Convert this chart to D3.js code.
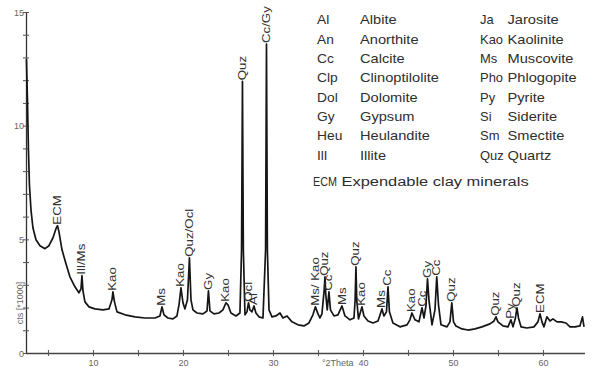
<!DOCTYPE html>
<html>
<head>
<meta charset="utf-8">
<script src="https://cdn.jsdelivr.net/npm/d3@7"></script>
<style>
  html, body { margin: 0; padding: 0; background: #fff; }
  svg { display: block; font-family: "Liberation Sans", Arial, sans-serif; }
</style>
</head>
<body>
<svg id="chart" width="594" height="367"></svg>
<script>
// Diffraction pattern: 2-theta angle (degrees) and intensity (counts x 1000)
const theta = [
  2.61, 2.72, 2.83, 2.94, 3.11, 3.33, 3.67, 4.11, 4.67, 5.11, 5.56, 5.89, 6.06, 6.22, 6.56,
  7.00, 7.44, 8.00, 8.44, 8.67, 8.78, 8.89, 9.11, 9.56, 10.22, 11.11, 11.78, 12.11, 12.22, 12.39,
  12.67, 13.56, 14.67, 15.78, 16.89, 17.44, 17.67, 17.89, 18.33, 18.89, 19.33, 19.56, 19.78, 20.00,
  20.22, 20.50, 20.72, 20.89, 21.11, 21.56, 22.22, 22.67, 22.83, 23.00, 23.44, 24.00, 24.44, 24.78,
  25.00, 25.33, 25.89, 26.33, 26.51, 26.61, 26.71, 26.89, 27.11, 27.28, 27.44, 27.67, 27.89, 28.11,
  28.44, 28.89, 29.18, 29.28, 29.38, 29.56, 29.89, 30.33, 30.78, 31.11, 31.56, 32.11, 32.78, 33.44,
  34.00, 34.44, 34.72, 35.00, 35.22, 35.44, 35.69, 35.78, 35.87, 36.03, 36.22, 36.39, 36.78, 37.22,
  37.67, 38.00, 38.56, 39.00, 39.13, 39.22, 39.31, 39.50, 39.89, 40.11, 40.56, 41.11, 41.67, 42.11,
  42.33, 42.61, 42.78, 42.94, 43.33, 44.11, 44.89, 45.22, 45.44, 45.78, 46.22, 46.56, 46.78, 47.00,
  47.17, 47.33, 47.67, 48.00, 48.20, 48.39, 48.67, 49.33, 49.67, 49.87, 50.06, 50.33, 51.00, 51.67,
  52.44, 53.22, 54.11, 54.56, 54.78, 55.00, 55.56, 56.11, 56.44, 56.67, 56.94, 57.11, 57.28, 57.56,
  58.22, 59.00, 59.44, 59.67, 59.89, 60.11, 60.44, 60.78, 61.11, 61.56, 62.00, 62.56, 63.00, 63.56,
  64.11, 64.39, 64.56
];
const counts = [
  12.92, 11.16, 8.95, 7.41, 6.31, 5.51, 4.98, 4.72, 4.59, 4.72, 5.07, 5.47, 5.60, 5.34, 4.54,
  3.93, 3.35, 2.91, 2.65, 2.82, 3.40, 2.73, 2.25, 2.03, 1.94, 1.90, 1.94, 2.34, 2.69, 2.25,
  1.81, 1.68, 1.59, 1.54, 1.54, 1.63, 2.03, 1.68, 1.54, 1.50, 1.63, 2.12, 2.87, 2.21,
  1.94, 2.34, 4.19, 2.34, 1.90, 1.76, 1.72, 1.85, 2.73, 1.85, 1.72, 1.76, 1.90, 2.21,
  2.12, 1.76, 1.63, 1.76, 4.54, 11.95, 4.54, 1.68, 1.81, 2.21, 1.90, 1.81, 2.07, 1.76,
  1.59, 1.54, 4.54, 13.59, 4.54, 1.90, 1.59, 1.63, 1.76, 1.54, 1.63, 1.37, 1.24, 1.19,
  1.32, 1.68, 2.03, 1.72, 1.54, 1.72, 2.78, 3.35, 2.56, 1.90, 2.69, 1.90, 1.63, 1.68,
  2.07, 1.63, 1.46, 1.54, 2.34, 3.79, 2.34, 1.50, 2.03, 1.63, 1.41, 1.32, 1.41, 1.94,
  1.63, 1.81, 2.91, 1.81, 1.32, 1.15, 1.24, 1.46, 1.76, 1.46, 1.37, 1.99, 1.54, 2.07,
  3.26, 2.34, 1.24, 1.90, 3.35, 2.12, 1.24, 1.15, 1.37, 2.21, 1.37, 1.19, 1.06, 1.01,
  1.06, 1.15, 1.28, 1.41, 1.59, 1.37, 1.19, 1.15, 1.46, 1.15, 1.54, 1.99, 1.54, 1.15,
  1.10, 1.15, 1.37, 1.72, 1.37, 1.15, 1.59, 1.41, 1.50, 1.37, 1.37, 1.32, 1.15, 1.15,
  1.19, 1.59, 1.15
];

// Mineral assignment of the reflections
const peakNames = [
  "ECM", "Ill/Ms", "Kao", "Ms", "Kao", "Quz/Ocl", "Gy", "Kao", "Quz", "Ocl", "Al", "Cc/Gy",
  "Ms/ Kao", "Quz", "Cc", "Ms", "Quz", "Kao", "Ms", "Cc", "Kao", "Cc", "Gy", "Cc", "Quz",
  "Quz", "Py", "Quz", "ECM"
];
const peakTheta = [
  6.06, 8.78, 12.22, 17.67, 19.78, 20.72, 22.83, 24.78, 26.61, 27.28, 27.89, 29.28,
  34.72, 35.78, 36.22, 37.67, 39.22, 39.89, 42.11, 42.78, 45.44, 46.56, 47.17, 48.20, 49.87,
  54.78, 56.44, 57.11, 59.67
];

// Abbreviation key
const keyAbbrLeft  = ["Al", "An", "Cc", "Clp", "Dol", "Gy", "Heu", "Ill"];
const keyNameLeft  = ["Albite", "Anorthite", "Calcite", "Clinoptilolite", "Dolomite", "Gypsum", "Heulandite", "Illite"];
const keyAbbrRight = ["Ja", "Kao", "Ms", "Pho", "Py", "Si", "Sm", "Quz"];
const keyNameRight = ["Jarosite", "Kaolinite", "Muscovite", "Phlogopite", "Pyrite", "Siderite", "Smectite", "Quartz"];
const keyNote = ["ECM", "Expendable clay minerals"];

// Axis ticks
const yMinorTicks = d3.range(0, 16, 1);
const yLabelTicks = [0, 5, 10, 15];
const xMinorTicks = d3.range(5, 65, 5);
const xLabelTicks = [10, 20, 30, 40, 50, 60];
const xTitle = "°2Theta";
const yTitle = "cts [*1000]";

const svg = d3.select("#chart");
const x = d3.scaleLinear().domain([2.56, 64.67]).range([26, 585]);
const y = d3.scaleLinear().domain([0, 15]).range([353, 12]);

const labelStretch = 1.33;

// Y axis
const yAxis = svg.append("g").attr("transform", `translate(${x.range()[0]},0)`)
  .call(d3.axisLeft(y).tickValues(yMinorTicks).tickSize(3)
    .tickFormat(d => yLabelTicks.includes(d) ? d : ""));
yAxis.select(".domain").attr("stroke", "#333").attr("stroke-width", 1.3).attr("d", `M0.5,${y(15)}V${y(0)}`);
yAxis.selectAll(".tick line").attr("x1", -3).attr("x2", 3).attr("stroke", "#555").attr("stroke-width", 1);
yAxis.selectAll(".tick text").attr("x", -2).attr("dy", "0.35em")
  .attr("fill", "#666").attr("font-size", 9)
  .attr("font-family", "'Liberation Sans', Arial, sans-serif");

// X axis
const xAxis = svg.append("g").attr("transform", `translate(0,${y(0)})`)
  .call(d3.axisBottom(x).tickValues(xMinorTicks).tickSize(3)
    .tickFormat(d => xLabelTicks.includes(d) ? d : ""));
xAxis.select(".domain").attr("stroke", "#444").attr("stroke-width", 1.3).attr("d", `M${x.range()[0]},0.5H${x.range()[1]}`);
xAxis.selectAll(".tick line").attr("y1", -3).attr("y2", 3).attr("stroke", "#555").attr("stroke-width", 1);
xAxis.selectAll(".tick text").attr("y", 12.5).attr("dy", 0)
  .attr("fill", "#666").attr("font-size", 9)
  .attr("font-family", "'Liberation Sans', Arial, sans-serif");

// Axis titles
svg.append("text")
  .attr("x", x(37.2)).attr("y", y(0) + 12.5)
  .attr("text-anchor", "middle").attr("font-size", 9).attr("fill", "#666")
  .text(xTitle);
svg.append("text")
  .attr("transform", `translate(20,${y(2.2)}) rotate(-90)`)
  .attr("text-anchor", "middle").attr("dy", "0.35em").attr("font-size", 9).attr("fill", "#666")
  .text(yTitle);

// Pattern
const pts = theta.map((t, i) => [t, counts[i]]);
svg.append("path")
  .datum(pts)
  .attr("fill", "none")
  .attr("stroke", "#151515")
  .attr("stroke-width", 1.7)
  .attr("stroke-linejoin", "round")
  .attr("d", d3.line().x(d => x(d[0])).y(d => y(d[1])));

// Reflection labels sit on top of the local maximum
const peakTop = t => d3.max(pts.filter(p => Math.abs(p[0] - t) < 0.12), p => p[1]);
svg.append("g").selectAll("text")
  .data(peakNames.map((n, i) => ({ name: n, t: peakTheta[i] })))
  .join("text")
  .attr("transform", d => `translate(${x(d.t)},${y(peakTop(d.t)) - 1}) rotate(-90) scale(${labelStretch},1)`)
  .attr("dy", "0.35em")
  .attr("font-size", 10)
  .attr("fill", "#333")
  .text(d => d.name);

// Key
const key = svg.append("g").attr("fill", "#2e2e2e").attr("font-size", 12);
const rowY = i => 20 + i * 19.35;
const addCol = (arr, cx, sx) => key.append("g").selectAll("text").data(arr).join("text")
  .attr("transform", (d, i) => `translate(${cx},${rowY(i)}) scale(${sx},1)`)
  .attr("dy", "0.35em")
  .text(d => d);
addCol(keyAbbrLeft, 317, 1.15);
addCol(keyNameLeft, 360, 1.22);
addCol(keyAbbrRight, 480, 1.08);
addCol(keyNameRight, 507.5, 1.22);
key.append("text")
  .attr("transform", `translate(313,181.7) scale(0.9,1)`)
  .attr("dy", "0.35em")
  .text(keyNote[0]);
key.append("text")
  .attr("transform", `translate(341.5,181.7) scale(1.37,1)`)
  .attr("dy", "0.35em")
  .text(keyNote[1]);
</script>
</body>
</html>
